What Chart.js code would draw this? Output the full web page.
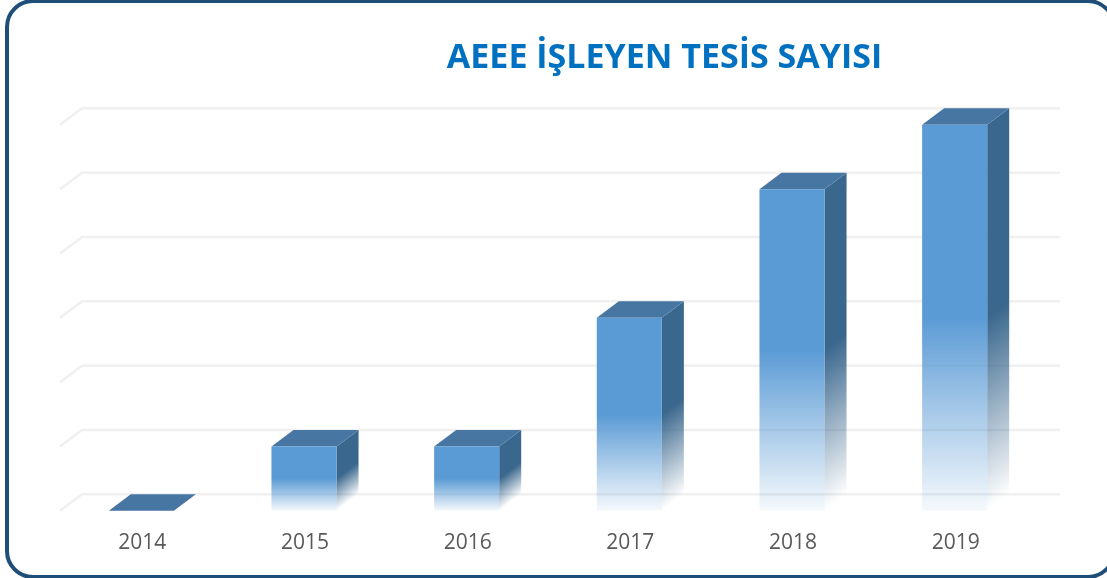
<!DOCTYPE html>
<html>
<head>
<meta charset="utf-8">
<style>
  html, body { margin: 0; padding: 0; background: #fff; overflow: hidden; }
  #wrap { position: relative; width: 1107px; height: 578px; overflow: hidden; }
  #frame { position: absolute; left: 5px; top: -1px; width: 1103px; height: 572px; border: 4px solid #1F4E79; border-radius: 28px; }
  canvas { position: absolute; left: 0; top: 0; }
</style>
<script src="https://cdn.jsdelivr.net/npm/chart.js@4"></script>
</head>
<body>
<div id="wrap">
  <div id="frame"></div>
  <canvas id="barchart" width="1107" height="578"></canvas>
</div>
<script>
const years = ['2014', '2015', '2016', '2017', '2018', '2019'];
const counts = [0, 1, 1, 3, 5, 6];
const yTicks = [0, 1, 2, 3, 4, 5, 6];

// depth of the fake 3D box
const depthX = 22;
const depthY = 16.5;

const frontColor = a => `rgba(91, 155, 213, ${a})`;
const sideColor = a => `rgba(58, 103, 141, ${a})`;

function frontGradient(context) {
    const chart = context.chart;
    if (context.type !== 'data' || !chart.chartArea) return frontColor(1);
    const y = chart.scales.y;
    const top = y.getPixelForValue(context.raw);
    const base = y.getPixelForValue(0);
    if (base - top < 1) return frontColor(1);
    const g = chart.ctx.createLinearGradient(0, top, 0, base);
    g.addColorStop(0, frontColor(1));
    g.addColorStop(0.5, frontColor(1));
    g.addColorStop(1, frontColor(0.06));
    return g;
}

const box3d = {
    id: 'box3d',
    afterLayout(chart) {
        // title sits right of the middle in the original
        chart.titleBlock.left += 233;
    },
    beforeDatasetsDraw(chart) {
        const ctx = chart.ctx;
        const yScale = chart.scales.y;
        const area = chart.chartArea;

        // back wall lines with the short slanted bit on the left
        ctx.save();
        ctx.strokeStyle = '#F0F0F0';
        ctx.lineWidth = 2.5;
        yTicks.forEach(t => {
            const py = yScale.getPixelForValue(t);
            ctx.beginPath();
            ctx.moveTo(area.left, py);
            ctx.lineTo(area.left + depthX, py - depthY);
            ctx.lineTo(area.right + depthX + 2, py - depthY);
            ctx.stroke();
        });

        const bars = chart.getDatasetMeta(0).data;
        bars.forEach((bar, i) => {
            const left = bar.x - bar.width / 2;
            const right = bar.x + bar.width / 2;
            const top = yScale.getPixelForValue(counts[i]);
            const base = yScale.getPixelForValue(0);
            const h = base - top;

            if (h > 1) {
                // side face, fade runs across the slant
                const mid = top + h * 0.5;
                const n = 22 / 27.8 * h * 0.5 / 27.8;
                const g = ctx.createLinearGradient(right, mid, right + 17 * n, mid + 22 * n);
                g.addColorStop(0, sideColor(1));
                g.addColorStop(1, sideColor(0));
                ctx.fillStyle = g;
                ctx.beginPath();
                ctx.moveTo(right, top);
                ctx.lineTo(right + depthX, top - depthY);
                ctx.lineTo(right + depthX, base - depthY);
                ctx.lineTo(right, base);
                ctx.closePath();
                ctx.fill();
            }

            // top face
            ctx.fillStyle = '#4776A3';
            ctx.beginPath();
            ctx.moveTo(left, top);
            ctx.lineTo(left + depthX, top - depthY);
            ctx.lineTo(right + depthX, top - depthY);
            ctx.lineTo(right, top);
            ctx.closePath();
            ctx.fill();
        });
        ctx.restore();
    }
};

new Chart(document.getElementById('barchart').getContext('2d'), {
    type: 'bar',
    data: {
        labels: years,
        datasets: [{
            label: 'AEEE',
            data: counts,
            backgroundColor: frontGradient,
            borderWidth: 0,
            categoryPercentage: 1,
            barPercentage: 0.4
        }]
    },
    options: {
        responsive: false,
        animation: false,
        layout: { padding: { left: 60, right: 71, top: 0, bottom: 10 } },
        plugins: {
            legend: { display: false },
            tooltip: { enabled: false },
            title: {
                display: true,
                text: 'AEEE İŞLEYEN TESİS SAYISI',
                color: '#0070C0',
                font: { family: '"Open Sans"', size: 34, weight: 'bold', lineHeight: 1.2 },
                padding: { top: 38, bottom: 46 }
            }
        },
        scales: {
            x: {
                grid: { display: false },
                border: { display: false },
                ticks: {
                    color: '#595959',
                    padding: 12,
                    labelOffset: 1,
                    font: { family: '"Open Sans"', size: 21 }
                }
            },
            y: {
                display: false,
                min: 0,
                max: 6
            }
        }
    },
    plugins: [box3d]
});
</script>
</body>
</html>
